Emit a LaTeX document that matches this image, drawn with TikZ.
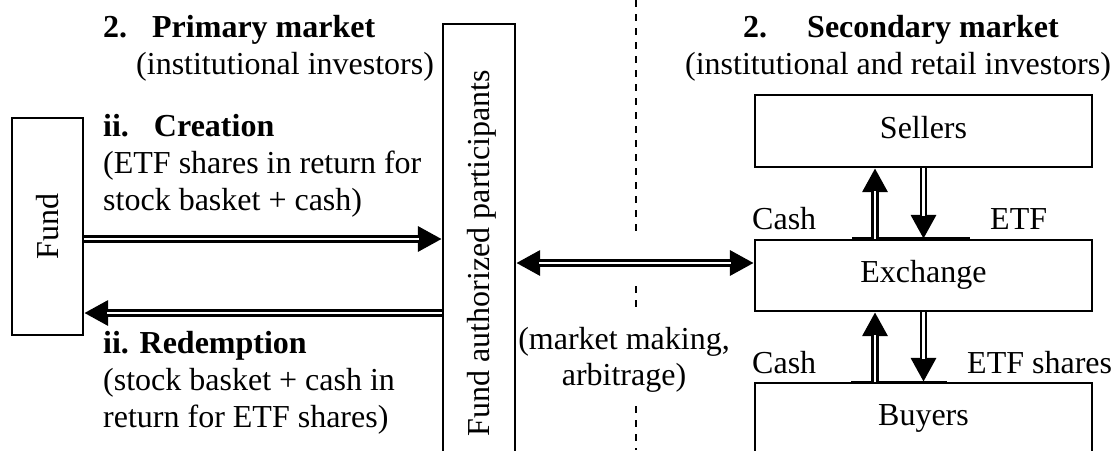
\documentclass[tikz,border=0pt]{standalone}
\usepackage{fontspec}
\setmainfont{Liberation Serif}
\usetikzlibrary{arrows.meta}
\begin{document}
\begin{tikzpicture}[x=1pt,y=-1pt,
  every node/.style={inner sep=0pt, font=\fontsize{32}{37}\selectfont},
  box/.style={draw, line width=2.2pt, text height=21.8pt, text depth=7pt},
  bigtri/.tip={Triangle[length=24pt,width=24pt]},
  dblarrow/.style={line width=7.5pt, -bigtri, postaction={draw=white, line width=2.5pt, -, shorten >=23pt}},
  dblboth/.style={line width=7.5pt, bigtri-bigtri, postaction={draw=white, line width=2.5pt, -, shorten >=23pt, shorten <=23pt}},
  divider/.style={line width=1.7pt, dash pattern=on 6.5pt off 7.5pt},
  rule/.style={line width=1.4pt},
  lbl/.style={anchor=base west},
  ctr/.style={anchor=base},
]
\useasboundingbox (0,0) rectangle (1114,450);
\clip (0,0) rectangle (1114,450);

% boxes
\node[box, rotate=90, minimum width=217pt, minimum height=71pt, text depth=-3pt] (fund) at (47.5,226.5) {Fund};
\node[box, rotate=90, minimum width=458pt, minimum height=72pt, text depth=-10pt] (ap) at (479,253) {Fund authorized participants};
\node[box, minimum width=337pt, minimum height=72pt] (sellers) at (923.5,131) {Sellers};
\node[box, minimum width=337pt, minimum height=71pt] (exch) at (923.5,275.5) {Exchange};
\node[box, minimum width=337pt, minimum height=69.2pt] (buyers) at (923.5,417.6) {Buyers};

% divider
\draw[divider] (636,0) -- (636,238);
\draw[divider] (636,286) -- (636,307);
\draw[divider] (636,406) -- (636,450);

% headings and texts, left
\node[lbl] (pmhead) at (103,37) {\textbf{2.}\hspace{25pt}\textbf{Primary market}};
\node[lbl] (pminv) at (136,74) {(institutional investors)};
\node[lbl] (crehead) at (103,136) {\textbf{ii.}\hspace{25pt}\textbf{Creation}};
\node[lbl] (cre1) at (103,173) {(ETF shares in return for};
\node[lbl] (cre2) at (103,210) {stock basket + cash)};
\node[lbl] (redhead) at (103,353) {\textbf{ii. Redemption}};
\node[lbl] (red1) at (103,390) {(stock basket + cash in};
\node[lbl] (red2) at (103,427) {return for ETF shares)};

% middle
\node[ctr] (mm1) at (624,349) {(market making,};
\node[ctr] (mm2) at (624,385) {arbitrage)};

% right headings
\node[lbl] (smhead) at (743,37) {\textbf{2.}\hspace{40pt}\textbf{Secondary market}};
\node[ctr] (sminv) at (898,74) {(institutional and retail investors)};

% labels near arrows
\node[lbl] (cash1) at (752,229) {Cash};
\node[lbl] (etf1) at (990,229) {ETF};
\node[lbl] (cash2) at (752,373) {Cash};
\node[lbl] (etf2) at (967,373) {ETF shares};

% short rules
\draw[rule] (852,238) -- (970,238);
\draw[rule] (851,382) -- (947,382);

% arrows
\draw[dblarrow] (fund.south |- 0,239) -- (ap.north |- 0,239);
\draw[dblarrow] (ap.north |- 0,313) -- (fund.south |- 0,313);
\draw[dblboth] (ap.south |- 0,263) -- (exch.west |- 0,263);
\draw[dblarrow] (875,0 |- exch.north) -- (875,0 |- sellers.south);
\draw[dblarrow] (sellers.south) -- (exch.north);
\draw[dblarrow] (875,0 |- buyers.north) -- (875,0 |- exch.south);
\draw[dblarrow] (exch.south) -- (buyers.north);
\end{tikzpicture}
\end{document}
